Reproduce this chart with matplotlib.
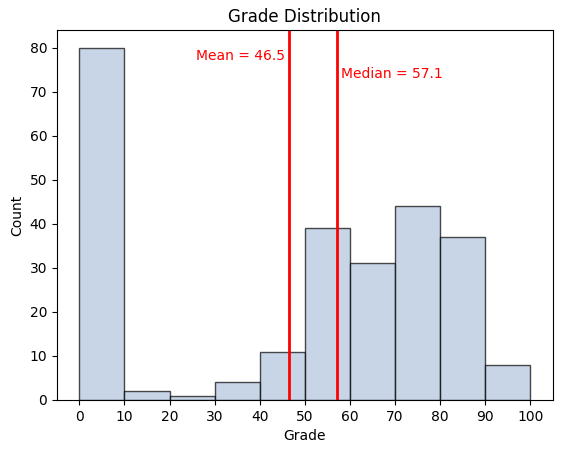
import numpy as np
import matplotlib
matplotlib.use('Agg')
import matplotlib.pyplot as plt

bin_edges = [0, 10, 20, 30, 40, 50, 60, 70, 80, 90, 100]
counts = [80, 2, 1, 4, 11, 39, 31, 44, 37, 8]
mean_grade = 46.5
median_grade = 57.1

fig = plt.figure(figsize=(5.63, 4.53), dpi=100)
ax = fig.add_axes([0.101, 0.117, 0.881, 0.817])

centers = [(a + b) / 2 for a, b in zip(bin_edges[:-1], bin_edges[1:])]
ax.hist(centers, bins=bin_edges, weights=counts, color='lightsteelblue',
        alpha=0.7, edgecolor='black', linewidth=1)

ax.axvline(mean_grade, color='red', linewidth=2)
ax.axvline(median_grade, color='red', linewidth=2)
ax.text(mean_grade - 1, 78, 'Mean = %.1f' % mean_grade, color='red', ha='right', va='center')
ax.text(median_grade + 1, 74, 'Median = %.1f' % median_grade, color='red', ha='left', va='center')

ax.set_xticks(np.arange(0, 101, 10))
ax.set_title('Grade Distribution')
ax.set_xlabel('Grade')
ax.set_ylabel('Count')

fig.savefig('out.png', dpi=100)
